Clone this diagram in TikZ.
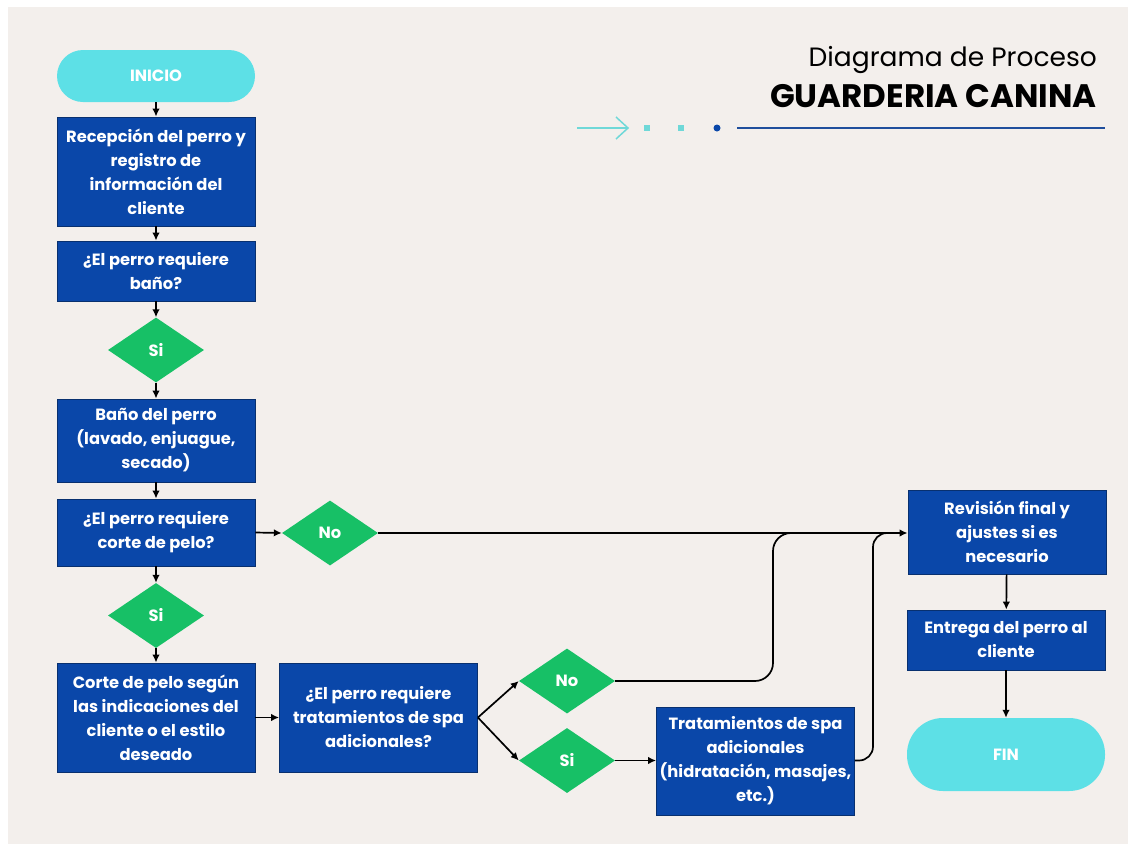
\documentclass[tikz,border=0pt]{standalone}
\usepackage{fontspec}
\setmainfont{Poppins}
\usetikzlibrary{shapes.geometric,arrows.meta,positioning}
\definecolor{boxblue}{HTML}{0A47A9}
\definecolor{boxedge}{HTML}{08306F}
\definecolor{sigreen}{HTML}{17C066}
\definecolor{endcyan}{HTML}{5DE0E6}
\definecolor{paper}{HTML}{F3EFEC}
\definecolor{lineblue}{HTML}{1F4E9C}
\definecolor{decoteal}{HTML}{6FD8D8}

\begin{document}
\begin{tikzpicture}[x=1pt,y=-1pt,
    proc/.style={draw=boxedge, line width=0.8pt, fill=boxblue, text=white,
      font=\bfseries\fontsize{16.3}{24}\selectfont, align=center,
      minimum width=198pt, inner sep=1pt},
    choice/.style={diamond, fill=sigreen, text=white,
      font=\bfseries\fontsize{16.3}{18}\selectfont,
      minimum width=96pt, minimum height=65pt, inner sep=0pt},
    term/.style={fill=endcyan, text=white, rounded corners=26pt,
      font=\bfseries\fontsize{16.3}{18}\selectfont,
      minimum width=198pt},
    link/.style={-{Latex[length=8pt,width=7.5pt]}, line width=1.7pt, black}]
  % page and background
  \useasboundingbox (0,0) rectangle (1135,852);
  \fill[white] (0,0) rectangle (1135,852);
  \fill[paper] (8,7) rectangle (1128,844);
  % title
  \node[anchor=base east, inner sep=0pt, font=\fontsize{26.5}{30}\selectfont] (subtitle) at (1097,66) {Diagrama de Proceso};
  \node[anchor=base east, inner sep=0pt, font=\bfseries\fontsize{32.5}{36}\selectfont] (title) at (1097,107) {GUARDERIA CANINA};
  % decoration under the title
  \draw[decoteal, line width=1.5pt] (577,128) -- (628,128);
  \draw[decoteal, line width=1.5pt] (616,117) -- (628,128) -- (616,139);
  \fill[decoteal] (644,125) rectangle (650,131);
  \fill[decoteal] (678,125) rectangle (684,131);
  \fill[boxblue] (717,128) circle (3.5);
  \draw[lineblue, line width=2pt] (737,128) -- (1105,128);
  % left column
  \node[term, minimum height=52pt] (inicio) at (156,76) {INICIO};
  \node[proc, minimum height=109pt] (recep) at (156,171.5) {Recepción del perro y\\registro de\\información del\\cliente};
  \node[proc, minimum height=60pt] (qbano) at (156,271) {¿El perro requiere\\baño?};
  \node[choice] (si1) at (156,350) {Si};
  \node[proc, minimum height=83pt] (bano) at (156,440.5) {Baño del perro\\(lavado, enjuague,\\secado)};
  \node[proc, minimum height=67pt] (qcorte) at (156,532.5) {¿El perro requiere\\corte de pelo?};
  \node[choice] (si2) at (156,615.5) {Si};
  \node[proc, minimum height=109pt] (corte) at (156,717.5) {Corte de pelo según\\las indicaciones del\\cliente o el estilo\\deseado};
  % middle
  \node[choice] (no1) at (330,533) {No};
  \node[proc, minimum height=109pt] (qspa) at (378.5,717.5) {¿El perro requiere\\tratamientos de spa\\adicionales?};
  \node[choice] (no2) at (567,681) {No};
  \node[choice] (si3) at (567,760.5) {Si};
  \node[proc, minimum height=108pt] (spa) at (755.5,761) {Tratamientos de spa\\adicionales\\(hidratación, masajes,\\etc.)};
  % right column
  \node[proc, minimum height=84pt] (revision) at (1007,532) {Revisión final y\\ajustes si es\\necesario};
  \node[proc, minimum height=60pt] (entrega) at (1006,640) {Entrega del perro al\\cliente};
  \node[term, minimum height=73pt, rounded corners=36pt] (fin) at (1006,754.5) {FIN};
  \coordinate (j1) at (773,533);
  \coordinate (j2) at (873,533);
  % arrows
  \draw[link] (inicio) -- (recep);
  \draw[link] (recep) -- (qbano);
  \draw[link] (qbano) -- (si1);
  \draw[link] (si1) -- (bano);
  \draw[link] (bano) -- (qcorte);
  \draw[link] (qcorte) -- (si2);
  \draw[link] (si2) -- (corte);
  \draw[link] (qcorte.east) -- (no1.west);
  \draw[link] (no1.east) -- (no1.east -| revision.west);
  \draw[link] (corte.east) -- (qspa.west);
  \draw[link] (qspa.east) -- (no2.west);
  \draw[link] (qspa.east) -- (si3.west);
  \draw[link] (si3.east) -- (si3.east -| spa.west);
  \draw[line width=1.7pt, rounded corners=18pt] (no2.east) -| (j1) -- ++(40,0);
  \draw[line width=1.7pt, rounded corners=14pt] (spa.east |- si3.east) -| (j2) -- ++(20,0);
  \draw[link] (revision) -- (entrega);
  \draw[link] (entrega) -- (fin);
\end{tikzpicture}
\end{document}
